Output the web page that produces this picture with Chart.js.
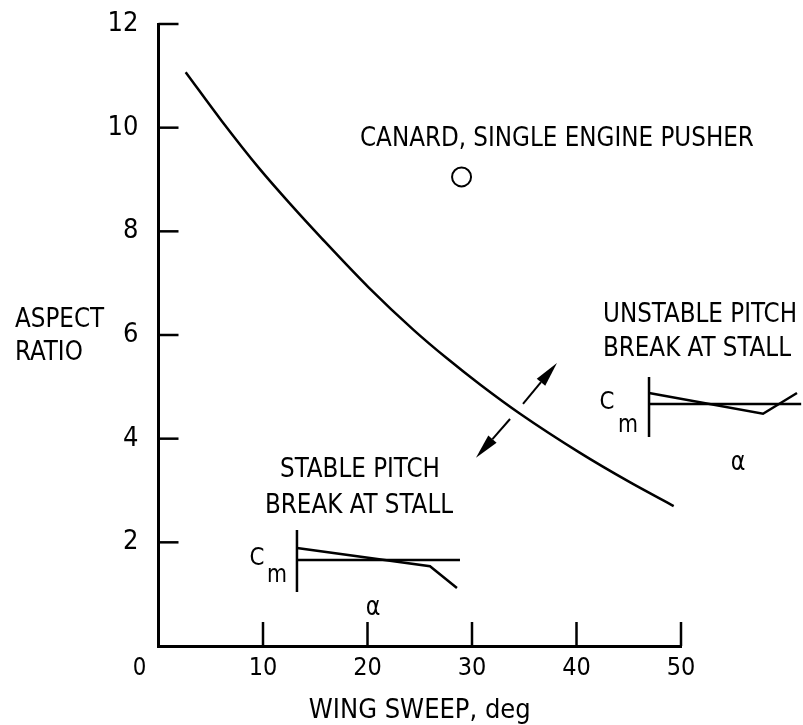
<!DOCTYPE html>
<html>
<head>
<meta charset="utf-8">
<script src="https://cdn.jsdelivr.net/npm/chart.js@4/dist/chart.umd.min.js"></script>
<style>
  html, body { margin: 0; padding: 0; background: #fff; }
  #wrap { width: 803px; height: 725px; }
</style>
</head>
<body>
<div id="wrap"><canvas id="c" width="803" height="725"></canvas></div>
<script>
// ---- data ----
const xTicks = [0, 10, 20, 30, 40, 50];
const yTicks = [0, 2, 4, 6, 8, 10, 12];

const sweepDeg    = [2.6, 6.05, 9.7, 12.6, 15.6, 20.1, 24.4, 27.6, 30.8, 34.6, 40.3, 45.1, 49.3];
const aspectRatio = [11.07, 10.13, 9.2, 8.53, 7.87, 6.92, 6.10, 5.55, 5.04, 4.48, 3.73, 3.16, 2.70];

const canardSweep = [29.0];
const canardAR    = [9.05];

// schematic Cm-alpha insets, in the chart's own coordinates
const stableAxisX = [13.25, 13.25];
const stableAxisY = [2.24, 1.04];
const stableBaseX = [13.25, 28.85];
const stableBaseY = [1.66, 1.66];
const stableCmX   = [13.25, 25.98, 28.56];
const stableCmY   = [1.89, 1.54, 1.12];

const unstableAxisX = [46.94, 46.94];
const unstableAxisY = [5.19, 4.03];
const unstableBaseX = [61.5, 46.94];
const unstableBaseY = [4.67, 4.67];
const unstableCmX   = [61.1, 57.85, 46.94];
const unstableCmY   = [4.88, 4.48, 4.88];

const FONT = '"Liberation Sans Narrow", "DejaVu Sans Condensed", "Liberation Sans", sans-serif';
const SX = 0.95;

function pts(xs, ys) { return xs.map((x, i) => ({ x: x, y: ys[i] })); }
function lineDs(xs, ys, w) {
  return { data: pts(xs, ys), showLine: true, pointRadius: 0, borderColor: '#000',
           borderWidth: w || 2.5, tension: 0, clip: false, fill: false };
}

const annot = {
  id: 'annot',
  afterDraw(chart) {
    const ctx = chart.ctx;
    const xs = chart.scales.x, ys = chart.scales.y;
    const X = v => xs.getPixelForValue(v), Y = v => ys.getPixelForValue(v);
    const area = chart.chartArea;
    function txt(s, x, y, align) {
      ctx.save();
      ctx.translate(x, y + 3);
      ctx.scale(SX, 1);
      ctx.textAlign = align;
      ctx.fillText(s, 0, 0);
      ctx.restore();
    }
    ctx.save();
    ctx.strokeStyle = '#000';
    ctx.fillStyle = '#000';
    ctx.lineCap = 'butt';
    // inward ticks
    ctx.lineWidth = 2.5;
    yTicks.forEach(v => { if (v === 0) return;
      ctx.beginPath(); ctx.moveTo(area.left, Y(v)); ctx.lineTo(area.left + 20, Y(v)); ctx.stroke(); });
    xTicks.forEach(v => { if (v === 0) return;
      ctx.beginPath(); ctx.moveTo(X(v), area.bottom); ctx.lineTo(X(v), area.bottom - 24); ctx.stroke(); });

    // corner zero
    ctx.textBaseline = 'middle';
    ctx.font = '25px ' + FONT;
    txt('0', X(0) - 19, area.bottom + 19, 'center');

    // arrows
    function arrow(x0, y0, x1, y1) {
      const px0 = X(x0), py0 = Y(y0), px1 = X(x1), py1 = Y(y1);
      const a = Math.atan2(py1 - py0, px1 - px0);
      const L = 25, W = 5.5;
      const bx = px1 - L * Math.cos(a), by = py1 - L * Math.sin(a);
      ctx.lineWidth = 2;
      ctx.beginPath(); ctx.moveTo(px0, py0); ctx.lineTo(bx, by); ctx.stroke();
      ctx.beginPath();
      ctx.moveTo(px1, py1);
      ctx.lineTo(bx + W * Math.sin(a), by - W * Math.cos(a));
      ctx.lineTo(bx - W * Math.sin(a), by + W * Math.cos(a));
      ctx.closePath(); ctx.fill();
    }
    arrow(34.88, 4.67, 38.13, 5.46);
    arrow(33.64, 4.38, 30.38, 3.63);

    // texts
    ctx.font = '27px ' + FONT;
    txt('CANARD, SINGLE ENGINE PUSHER', X(19.28), Y(9.83), 'left');
    txt('ASPECT', 15, Y(6.35), 'left');
    txt('RATIO', 15, Y(5.71), 'left');
    txt('UNSTABLE PITCH', X(51.82), Y(6.45), 'center');
    txt('BREAK AT STALL', X(51.53), Y(5.79), 'center');
    txt('STABLE PITCH', X(19.28), Y(3.46), 'center');
    txt('BREAK AT STALL', X(19.19), Y(2.76), 'center');

    ctx.font = '25px ' + FONT;
    txt('C', X(9.43), Y(1.74), 'center');
    txt('C', X(42.92), Y(4.75), 'center');
    ctx.font = '24px ' + FONT;
    txt('m', X(11.34), Y(1.41), 'center');
    txt('m', X(44.93), Y(4.31), 'center');
    ctx.font = '26px ' + FONT;
    txt('\u03B1', X(20.53), Y(0.79), 'center');
    txt('\u03B1', X(55.45), Y(3.59), 'center');
    ctx.restore();
  }
};

new Chart(document.getElementById('c'), {
  type: 'scatter',
  data: {
    datasets: [
      { data: pts(sweepDeg, aspectRatio), showLine: true, pointRadius: 0, borderColor: '#000',
        borderWidth: 2.5, cubicInterpolationMode: 'monotone', fill: false },
      { data: pts(canardSweep, canardAR), showLine: false, pointRadius: 9.5, pointStyle: 'circle',
        borderColor: '#000', borderWidth: 2, backgroundColor: '#fff' },
      lineDs(stableAxisX, stableAxisY, 2.5),
      lineDs(stableBaseX, stableBaseY, 2.5),
      lineDs(stableCmX, stableCmY, 2.5),
      lineDs(unstableAxisX, unstableAxisY, 2.5),
      lineDs(unstableBaseX, unstableBaseY, 2.5),
      lineDs(unstableCmX, unstableCmY, 2.5)
    ]
  },
  options: {
    responsive: false,
    animation: false,
    events: [],
    layout: { padding: { left: 0, right: 122, top: 24, bottom: 0 } },
    plugins: { legend: { display: false }, tooltip: { enabled: false }, title: { display: false } },
    scales: {
      x: {
        type: 'linear', min: 0, max: 50,
        afterBuildTicks: s => { s.ticks = xTicks.map(v => ({ value: v })); },
        afterFit: s => { s.height = 79; s.paddingLeft = 0; s.paddingRight = 0; },
        grid: { display: false, drawTicks: false },
        border: { display: true, color: '#000', width: 3 },
        ticks: { color: '#000', font: { family: FONT, size: 25 }, padding: 7,
                 callback: v => (v === 0 ? '' : String(v)) },
        title: { display: true, text: 'WING SWEEP, deg', color: '#000',
                 font: { family: FONT, size: 27 }, padding: { top: 0, bottom: -2 } }
      },
      y: {
        type: 'linear', min: 0, max: 12,
        afterBuildTicks: s => { s.ticks = yTicks.map(v => ({ value: v })); },
        afterFit: s => { s.width = 158.5; s.paddingTop = 0; s.paddingBottom = 0; },
        grid: { display: false, drawTicks: false },
        border: { display: true, color: '#000', width: 3 },
        ticks: { color: '#000', font: { family: FONT, size: 27 }, padding: 20,
                 callback: v => (v === 0 ? '' : String(v)) }
      }
    }
  },
  plugins: [annot]
});
</script>
</body>
</html>
